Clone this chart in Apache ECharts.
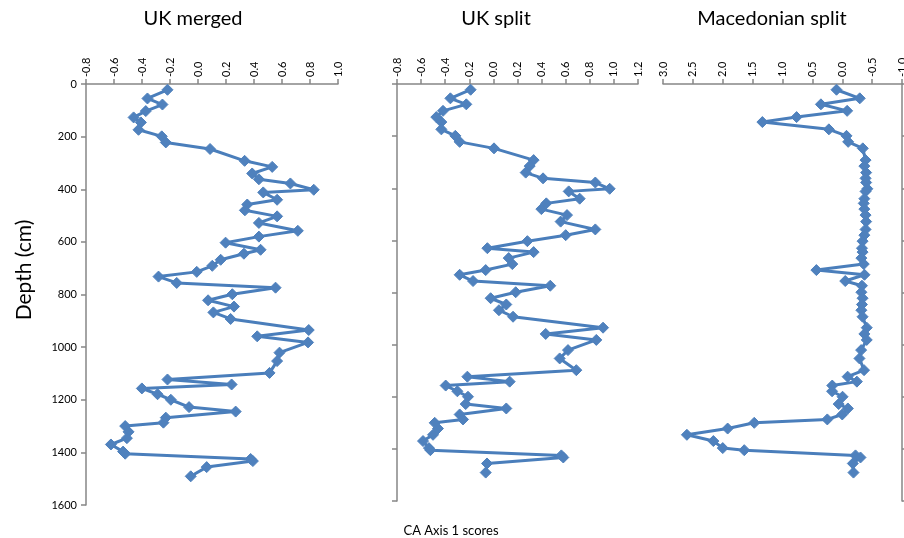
<!DOCTYPE html>
<html>
<head>
<meta charset="utf-8">
<script src="https://cdn.jsdelivr.net/npm/echarts@6/dist/echarts.min.js"></script>
<style>
html,body{margin:0;padding:0;background:#fff;}
#chart{width:904px;height:538px;}
</style>
</head>
<body>
<div id="chart"></div>
<script>
// Depth (cm) of each sample
const depth = [22,55,78,103,127,146,174,199,222,247,292,315,340,362,378,402,412,440,458,480,503,528,558,580,603,630,645,668,691,714,732,756,774,799,822,846,868,893,935,959,982,1021,1053,1098,1123,1142,1157,1179,1200,1228,1245,1268,1287,1300,1322,1346,1370,1397,1405,1425,1433,1456,1491];

// CA Axis 1 scores
const ukMerged = [-0.218,-0.361,-0.254,-0.373,-0.460,-0.408,-0.425,-0.259,-0.230,0.086,0.333,0.530,0.387,0.435,0.660,0.827,0.466,0.565,0.352,0.335,0.565,0.435,0.713,0.435,0.197,0.447,0.328,0.162,0.102,-0.009,-0.282,-0.152,0.554,0.245,0.072,0.257,0.110,0.233,0.791,0.423,0.786,0.582,0.565,0.511,-0.218,0.240,-0.401,-0.289,-0.194,-0.064,0.269,-0.230,-0.247,-0.520,-0.496,-0.508,-0.622,-0.535,-0.520,0.376,0.392,0.062,-0.052];
const ukSplit = [-0.189,-0.357,-0.225,-0.418,-0.474,-0.432,-0.432,-0.316,-0.280,0.005,0.334,0.301,0.268,0.412,0.846,0.965,0.625,0.716,0.439,0.398,0.611,0.558,0.846,0.600,0.282,-0.050,0.334,0.127,0.157,-0.064,-0.280,-0.169,0.472,0.185,-0.023,0.107,0.046,0.163,0.910,0.434,0.854,0.619,0.550,0.688,-0.216,0.135,-0.396,-0.299,-0.211,-0.230,0.107,-0.280,-0.252,-0.487,-0.460,-0.501,-0.584,-0.535,-0.523,0.564,0.580,-0.053,-0.064];
const macSplit = [0.096,-0.293,0.357,-0.082,0.764,1.337,0.224,-0.071,-0.099,-0.344,-0.39,-0.37,-0.40,-0.39,-0.40,-0.42,-0.39,-0.37,-0.36,-0.37,-0.39,-0.40,-0.39,-0.37,-0.34,-0.33,-0.34,-0.32,-0.36,0.433,-0.372,-0.05,-0.33,-0.32,-0.34,-0.33,-0.32,-0.34,-0.41,-0.37,-0.41,-0.316,-0.288,-0.365,-0.09,-0.245,0.167,0.17,-0.005,0.06,-0.094,0.0,0.25,1.473,1.918,2.60,2.157,2.0,1.64,-0.222,-0.305,-0.177,-0.188];

// Tick labels
const depthTicks = ['0','200','400','600','800','1000','1200','1400','1600'];
const ukMergedTicks = ['-0.8','-0.6','-0.4','-0.2','0.0','0.2','0.4','0.6','0.8','1.0'];
const ukSplitTicks = ['-0.8','-0.6','-0.4','0.2','0.0','0.2','0.4','0.6','0.8','1.0','1.2'];
const macTicks = ['-1.0','-0.5','0.0','0.5','1.0','1.5','2.0','2.5','3.0'];

const panelTitles = ['UK merged','UK split','Macedonian split'];
const xAxisTitle = 'CA Axis 1 scores';
const yAxisTitle = 'Depth (cm)';

const FONT = 'Lato, "Open Sans", sans-serif';
const AXIS_COLOR = '#868686';
const LINE_COLOR = '#4a7ebb';
const MARK_COLOR = '#4f81bd';

function tickFormatter(labels, min, interval) {
  return function (v) {
    const i = Math.round((v - min) / interval);
    return labels[i] !== undefined ? labels[i] : '';
  };
}

function xAxisDef(gridIndex, min, max, interval, labels, inverse) {
  const vals = labels.map((_, i) => +(min + i * interval).toFixed(4));
  return {
    type: 'value', gridIndex: gridIndex, position: 'top', min: min, max: max, interval: interval,
    inverse: !!inverse,
    axisLine: {show: true, onZero: false, lineStyle: {color: AXIS_COLOR, width: 1.5}},
    axisTick: {show: true, inside: false, length: 5, lineStyle: {color: AXIS_COLOR, width: 1.5}},
    axisLabel: {show: true, rotate: -90, fontSize: 11, color: '#000', fontFamily: FONT, margin: 7,
      showMinLabel: true, showMaxLabel: true, hideOverlap: false, customValues: vals,
      formatter: tickFormatter(labels, min, interval)},
    splitLine: {show: false}
  };
}

function yAxisDef(gridIndex, position, showLabels) {
  return {
    type: 'value', gridIndex: gridIndex, position: position, min: 0, max: 1600, interval: 200, inverse: true,
    axisLine: {show: true, onZero: false, lineStyle: {color: AXIS_COLOR, width: 1.5}},
    axisTick: {show: true, inside: false, length: 5, lineStyle: {color: AXIS_COLOR, width: 1.5}},
    axisLabel: {show: showLabels, fontSize: 11, color: '#000', fontFamily: FONT, margin: 9,
      showMinLabel: true, showMaxLabel: true,
      formatter: tickFormatter(depthTicks, 0, 200)},
    splitLine: {show: false}
  };
}

function pairs(xs) { return xs.map((v, i) => [v, depth[i]]); }

function seriesDef(idx, xs) {
  return {
    type: 'line', xAxisIndex: idx, yAxisIndex: idx, data: pairs(xs),
    symbol: 'diamond', symbolSize: 11, showSymbol: true, clip: false,
    lineStyle: {color: LINE_COLOR, width: 3},
    itemStyle: {color: MARK_COLOR, borderColor: MARK_COLOR},
    emphasis: {disabled: true}
  };
}

const chart = echarts.init(document.getElementById('chart'), null, {renderer: 'canvas'});
chart.setOption({
  animation: false,
  backgroundColor: '#fff',
  grid: [
    {left: 86, top: 84, width: 252, height: 421, containLabel: false, outerBoundsMode: 'none'},
    {left: 397, top: 84, width: 241, height: 417, containLabel: false, outerBoundsMode: 'none'},
    {left: 663, top: 84, width: 239, height: 417, containLabel: false, outerBoundsMode: 'none'}
  ],
  xAxis: [
    xAxisDef(0, -0.8, 1.0, 0.2, ukMergedTicks, false),
    xAxisDef(1, -0.8, 1.2, 0.2, ukSplitTicks, false),
    xAxisDef(2, -1.0, 3.0, 0.5, macTicks, true)
  ],
  yAxis: [
    yAxisDef(0, 'left', true),
    yAxisDef(1, 'left', false),
    yAxisDef(2, 'right', false)
  ],
  series: [
    seriesDef(0, ukMerged),
    seriesDef(1, ukSplit),
    seriesDef(2, macSplit)
  ],
  graphic: [
    {type: 'text', x: 193, y: 19, style: {text: panelTitles[0], font: '20px ' + FONT, fill: '#000', textAlign: 'center', textVerticalAlign: 'middle'}},
    {type: 'text', x: 496, y: 19, style: {text: panelTitles[1], font: '20px ' + FONT, fill: '#000', textAlign: 'center', textVerticalAlign: 'middle'}},
    {type: 'text', x: 772, y: 19, style: {text: panelTitles[2], font: '20px ' + FONT, fill: '#000', textAlign: 'center', textVerticalAlign: 'middle'}},
    {type: 'text', x: 451, y: 531, style: {text: xAxisTitle, font: '13px ' + FONT, fill: '#000', textAlign: 'center', textVerticalAlign: 'middle'}},
    {type: 'text', x: 24, y: 270, rotation: Math.PI / 2, style: {text: yAxisTitle, font: '21px ' + FONT, fill: '#000', textAlign: 'center', textVerticalAlign: 'middle'}}
  ]
});
</script>
</body>
</html>
